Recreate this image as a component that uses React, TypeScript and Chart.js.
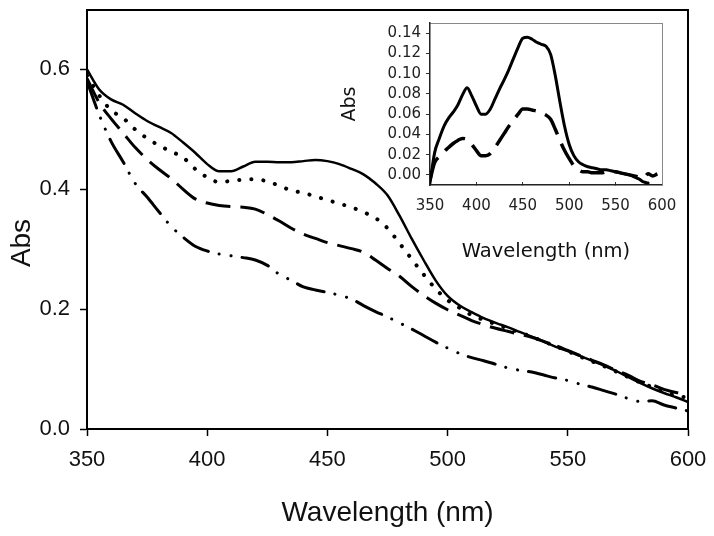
import React, { useEffect, useRef } from 'react';
import { Chart, registerables } from 'chart.js';

Chart.register(...registerables);

// ---------- data ----------
const wavelengths = [
  350, 355, 360, 365, 370, 375, 380, 385, 390, 395,
  400, 405, 410, 415, 420, 425, 430, 435, 440, 445,
  450, 455, 460, 465, 470, 475, 480, 485, 490, 495,
  500, 505, 510, 515, 520, 525, 530, 535, 540, 545,
  550, 555, 560, 565, 570, 575, 580, 585, 590, 595, 600,
];

const absSolid = [
  0.600, 0.567, 0.550, 0.541, 0.527, 0.514, 0.504, 0.494, 0.478, 0.461,
  0.442, 0.430, 0.430, 0.438, 0.446, 0.446, 0.445, 0.445, 0.447, 0.449,
  0.447, 0.442, 0.434, 0.425, 0.410, 0.390, 0.356, 0.318, 0.282, 0.248,
  0.222, 0.206, 0.195, 0.185, 0.177, 0.170, 0.162, 0.154, 0.146, 0.137,
  0.130, 0.122, 0.114, 0.106, 0.097, 0.087, 0.077, 0.068, 0.060, 0.053, 0.045,
];

const absDotted = [
  0.590, 0.557, 0.532, 0.519, 0.500, 0.485, 0.473, 0.463, 0.453, 0.434,
  0.420, 0.412, 0.414, 0.416, 0.417, 0.413, 0.406, 0.398, 0.394, 0.388,
  0.382, 0.376, 0.370, 0.362, 0.352, 0.335, 0.310, 0.284, 0.258, 0.234,
  0.215, 0.202, 0.190, 0.182, 0.175, 0.168, 0.161, 0.154, 0.146, 0.138,
  0.130, 0.121, 0.113, 0.105, 0.096, 0.087, 0.078, 0.070, 0.062, 0.056, 0.052,
];

const absDashed = [
  0.585, 0.545, 0.518, 0.494, 0.470, 0.450, 0.433, 0.418, 0.400, 0.384,
  0.377, 0.373, 0.371, 0.370, 0.367, 0.358, 0.347, 0.335, 0.325, 0.318,
  0.311, 0.306, 0.301, 0.295, 0.282, 0.268, 0.255, 0.238, 0.223, 0.210,
  0.199, 0.190, 0.181, 0.174, 0.168, 0.163, 0.158, 0.153, 0.146, 0.139,
  0.131, 0.123, 0.115, 0.107, 0.098, 0.090, 0.080, 0.074, 0.066, 0.061, 0.060,
];

const absDashDot = [
  0.580, 0.525, 0.480, 0.446, 0.410, 0.387, 0.362, 0.338, 0.320, 0.305,
  0.297, 0.292, 0.289, 0.286, 0.282, 0.273, 0.258, 0.248, 0.237, 0.232,
  0.228, 0.223, 0.217, 0.206, 0.196, 0.187, 0.177, 0.167, 0.156, 0.145,
  0.135, 0.126, 0.119, 0.114, 0.108, 0.102, 0.098, 0.095, 0.090, 0.085,
  0.081, 0.075, 0.070, 0.064, 0.058, 0.051, 0.046, 0.047, 0.040, 0.035, 0.030,
];

const insetSolid = [
  -0.008, 0.022, 0.036, 0.048, 0.056, 0.062, 0.069, 0.079, 0.086, 0.078,
  0.068, 0.060, 0.060, 0.065, 0.075, 0.085, 0.094, 0.104, 0.115, 0.126,
  0.135, 0.136, 0.134, 0.131, 0.129, 0.127, 0.119, 0.098, 0.072, 0.048,
  0.030, 0.019, 0.013, 0.010, 0.008, 0.007, 0.006, 0.005, 0.005, 0.004,
  0.003, 0.002, 0.001, 0.000, -0.002, -0.004, -0.007, -0.008, null, null, null,
];

const insetDashed = [
  -0.005, 0.012, 0.018, 0.023, 0.027, 0.031, 0.034, 0.036, 0.035, 0.030,
  0.024, 0.019, 0.019, 0.021, 0.027, 0.034, 0.041, 0.048, 0.054, 0.060,
  0.065, 0.065, 0.064, 0.063, 0.061, 0.059, 0.055, 0.045, 0.034, 0.024,
  0.016, 0.009, 0.005, 0.003, 0.003, 0.002, 0.002, 0.002, 0.003, 0.003,
  0.003, 0.002, 0.001, 0.000, -0.001, -0.002, -0.003, 0.001, -0.001, 0.001, null,
];

const mainXTicks = [350, 400, 450, 500, 550, 600];
const mainYTicks = [0.0, 0.2, 0.4, 0.6];
const insetXTicks = [350, 400, 450, 500, 550, 600];
const insetYTicks = [0.0, 0.02, 0.04, 0.06, 0.08, 0.1, 0.12, 0.14];

const xTitle = 'Wavelength (nm)';
const yTitle = 'Abs';

// ---------- helpers ----------
const W = 714;
const H = 536;
const MAIN_FONT = '"Liberation Sans", Arial, Helvetica, sans-serif';
const INSET_FONT = '"DejaVu Sans", "Liberation Sans", sans-serif';

const toPoints = (vals: (number | null)[]) =>
  wavelengths.map((w, i) => ({ x: w, y: vals[i] }));

const setTicks = (list: number[]) => (scale: any) => {
  scale.ticks = list.map((v) => ({ value: v }));
};

const fitSize = (prop: 'width' | 'height', size: number) => (s: any) => {
  s[prop] = size;
  s.paddingTop = 0;
  s.paddingBottom = 0;
  s.paddingLeft = 0;
  s.paddingRight = 0;
};

const lineDs = (vals: (number | null)[], dash: number[], width: number, cap: CanvasLineCap) => ({
  data: toPoints(vals),
  borderColor: '#000',
  borderWidth: width,
  borderDash: dash,
  borderCapStyle: cap,
  borderJoinStyle: 'round' as CanvasLineJoin,
  pointRadius: 0,
  fill: false,
  cubicInterpolationMode: 'monotone' as const,
  spanGaps: false,
});

const frameAxis = (pos: 'top' | 'right', color: string, width: number, min: number, max: number) => ({
  type: 'linear' as const,
  position: pos,
  min,
  max,
  display: true,
  afterFit: fitSize(pos === 'top' ? 'height' : 'width', 0),
  ticks: { display: false },
  grid: { display: false, drawTicks: false, drawOnChartArea: false },
  border: { display: true, color, width },
});

const mainYTitlePlugin = {
  id: 'mainYTitle',
  afterDraw(chart: any) {
    const ctx = chart.ctx;
    ctx.save();
    ctx.translate(22, 243);
    ctx.rotate(-Math.PI / 2);
    ctx.font = `28px ${MAIN_FONT}`;
    ctx.fillStyle = '#111';
    ctx.textAlign = 'center';
    ctx.textBaseline = 'middle';
    ctx.fillText(yTitle, 0, 0);
    ctx.restore();
  },
};

export default function App() {
  const mainRef = useRef<HTMLCanvasElement | null>(null);
  const insetRef = useRef<HTMLCanvasElement | null>(null);

  useEffect(() => {
    if (!mainRef.current || !insetRef.current) return;

    const main = new Chart(mainRef.current, {
      type: 'line',
      data: {
        datasets: [
          lineDs(absSolid, [], 2.5, 'round'),
          lineDs(absDotted, [0.1, 12], 4, 'round'),
          lineDs(absDashed, [25, 10], 3, 'butt'),
          lineDs(absDashDot, [28, 11, 0.1, 12, 0.1, 11], 3, 'round'),
        ] as any,
      },
      options: {
        responsive: false,
        animation: false,
        devicePixelRatio: 1,
        layout: { padding: { left: 0, top: 9.5, right: 26, bottom: 0 } },
        plugins: { legend: { display: false }, tooltip: { enabled: false } },
        scales: {
          x: {
            type: 'linear',
            position: 'bottom',
            min: 350,
            max: 600,
            afterBuildTicks: setTicks(mainXTicks),
            afterFit: fitSize('height', 107),
            grid: { drawOnChartArea: false, drawTicks: true, tickLength: 7, tickColor: '#000', tickWidth: 1.5 },
            border: { display: true, color: '#000', width: 2 },
            ticks: {
              padding: 11,
              color: '#111',
              maxRotation: 0,
              font: { family: MAIN_FONT, size: 22 },
              callback: (v: any) => String(v),
            },
            title: {
              display: true,
              text: xTitle,
              color: '#111',
              font: { family: MAIN_FONT, size: 28, lineHeight: 1.2 },
              padding: { top: 0, bottom: 6 },
            },
          },
          x2: frameAxis('top', '#000', 2, 350, 600),
          y: {
            type: 'linear',
            position: 'left',
            min: 0,
            max: 0.7,
            afterBuildTicks: setTicks(mainYTicks),
            afterFit: fitSize('width', 87),
            grid: { drawOnChartArea: false, drawTicks: true, tickLength: 7, tickColor: '#000', tickWidth: 1.5 },
            border: { display: true, color: '#000', width: 2 },
            ticks: {
              padding: 10,
              color: '#111',
              font: { family: MAIN_FONT, size: 22 },
              callback: (v: any) => Number(v).toFixed(1),
            },
          },
          y2: frameAxis('right', '#000', 2, 0, 0.7),
        } as any,
      },
      plugins: [mainYTitlePlugin],
    });

    const inset = new Chart(insetRef.current, {
      type: 'line',
      data: {
        datasets: [
          lineDs(insetSolid, [], 3, 'round'),
          lineDs(insetDashed, [24, 10], 3.5, 'butt'),
        ] as any,
      },
      options: {
        responsive: false,
        animation: false,
        devicePixelRatio: 1,
        layout: { padding: { left: 330, top: 23, right: 52, bottom: 266 } },
        plugins: { legend: { display: false }, tooltip: { enabled: false } },
        scales: {
          x: {
            type: 'linear',
            position: 'bottom',
            min: 350,
            max: 600,
            afterBuildTicks: setTicks(insetXTicks),
            afterFit: fitSize('height', 85),
            grid: { drawOnChartArea: false, drawTicks: true, tickLength: -3, tickColor: '#333', tickWidth: 1 },
            border: { display: true, color: '#222', width: 1.5 },
            ticks: {
              padding: 15,
              color: '#222',
              maxRotation: 0,
              font: { family: INSET_FONT, size: 15 },
              callback: (v: any) => String(v),
            },
            title: {
              display: true,
              text: xTitle,
              color: '#111',
              font: { family: INSET_FONT, size: 19.5, lineHeight: 1.2 },
              padding: { top: 0, bottom: 6 },
            },
          },
          x2: frameAxis('top', '#888', 1, 350, 600),
          y: {
            type: 'linear',
            position: 'left',
            min: -0.01,
            max: 0.15,
            afterBuildTicks: setTicks(insetYTicks),
            afterFit: fitSize('width', 100),
            grid: { drawOnChartArea: false, drawTicks: true, tickLength: 4, tickColor: '#333', tickWidth: 1 },
            border: { display: true, color: '#222', width: 1.5 },
            ticks: {
              padding: 5,
              color: '#222',
              font: { family: INSET_FONT, size: 15 },
              callback: (v: any) => Number(v).toFixed(2),
            },
            title: {
              display: true,
              text: yTitle,
              color: '#111',
              font: { family: INSET_FONT, size: 19, lineHeight: 1.2 },
              padding: { top: 9, bottom: 0 },
            },
          },
          y2: frameAxis('right', '#888', 1, -0.01, 0.15),
        } as any,
      },
    });

    return () => {
      main.destroy();
      inset.destroy();
    };
  }, []);

  return (
    <div style={{ position: 'fixed', left: 0, top: 0, width: W, height: H, background: '#fff' }}>
      <canvas
        ref={mainRef}
        width={W}
        height={H}
        style={{ position: 'absolute', left: 0, top: 0, width: W, height: H }}
      />
      <canvas
        ref={insetRef}
        width={W}
        height={H}
        style={{ position: 'absolute', left: 0, top: 0, width: W, height: H, pointerEvents: 'none' }}
      />
    </div>
  );
}
